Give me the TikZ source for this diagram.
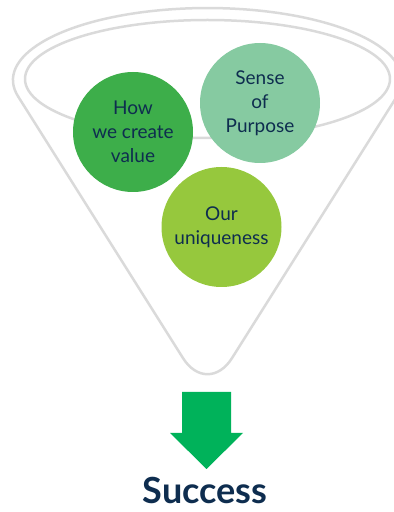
\documentclass[tikz,border=0pt]{standalone}
\usepackage{fontspec}
\setmainfont{Lato}
\definecolor{funnelgray}{HTML}{DADADA}
\definecolor{darkgreen}{HTML}{3DAE4A}
\definecolor{mintgreen}{HTML}{86CAA1}
\definecolor{limegreen}{HTML}{96C83D}
\definecolor{arrowgreen}{HTML}{00B25A}
\definecolor{navy}{HTML}{0E2D4F}
\tikzset{
  funnelline/.style={draw=funnelgray, line width=2.5pt, line cap=round, line join=round},
  bubble/.style={circle, minimum size=120pt, inner sep=0pt, align=center,
    text=navy, font=\fontsize{19}{24}\selectfont},
}
\begin{document}
\begin{tikzpicture}[x=1pt,y=1pt]
\useasboundingbox (0,0) rectangle (394,512);
\begin{scope}
\clip (0,0) rectangle (394,512);
% funnel
\coordinate (lt) at (18.2,415.4);
\coordinate (rt) at (396.8,415.4);
\coordinate (apex) at (207.5,115);
\draw[funnelline] (lt) arc[start angle=193.3, end angle=-13.3, x radius=194.5, y radius=72];
\draw[funnelline, rounded corners=46pt] (lt) -- (apex) -- (rt);
\draw[funnelline] (207.5,433) ellipse[x radius=182.5, y radius=59];
\end{scope}
% bubbles
\node[bubble, fill=darkgreen] (how) at (133,380) {How\\we create\\value};
\node[bubble, fill=mintgreen] (sense) at (260,409) {Sense\\of\\Purpose};
\node[bubble, fill=limegreen] (uniq) at (221.5,285) {Our\\uniqueness};
% arrow
\fill[arrowgreen] (182,120) -- (231,120) -- (231,79) -- (243,79) -- (206.5,43) -- (170,79) -- (182,79) -- cycle;
\node[anchor=base, text=navy, font=\fontsize{36}{40}\selectfont\bfseries, inner sep=0pt] (success) at (205,9) {Success};
\end{tikzpicture}
\end{document}
